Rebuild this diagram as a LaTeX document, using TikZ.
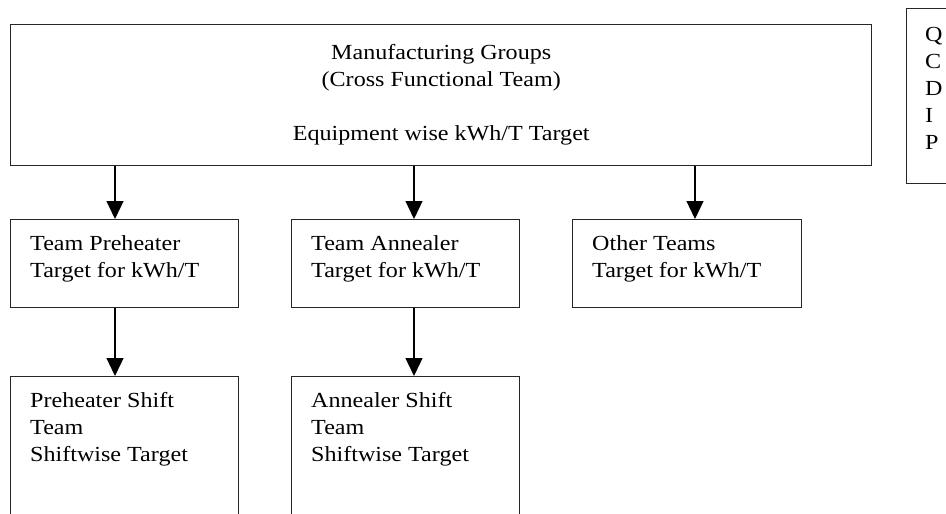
\documentclass[tikz,border=0pt]{standalone}
\usepackage{fontspec}
\setmainfont{Liberation Serif}[FakeStretch=1.12]
\usetikzlibrary{arrows.meta}
\begin{document}
\begin{tikzpicture}[x=1pt,y=-1pt,
  boxnode/.style={draw=black!85, line width=1.4pt, inner sep=0pt, anchor=north west},
  txt/.style={inner sep=0pt, anchor=north west, align=left, font=\fontsize{21.5}{27}\selectfont},
  arr/.style={line width=1.3pt, -{Triangle[width=17pt,length=18pt]}}]
\clip (0,0) rectangle (946,514);
\fill[white] (0,0) rectangle (946,514);
% boxes
\node[boxnode, minimum width=861pt, minimum height=141pt, align=center,
      font=\fontsize{21.5}{27}\selectfont] (main) at (10,24)
  {Manufacturing Groups\\(Cross Functional Team)\\[27pt]Equipment wise kWh/T Target};
\node[boxnode, minimum width=228pt, minimum height=88pt] (b1) at (10,219) {};
\node[boxnode, minimum width=228pt, minimum height=88pt] (b2) at (291,219) {};
\node[boxnode, minimum width=229pt, minimum height=88pt] (b3) at (571.5,219) {};
\node[boxnode, minimum width=228pt, minimum height=170pt] (c1) at (10,376) {};
\node[boxnode, minimum width=228pt, minimum height=170pt] (c2) at (291,376) {};
\node[boxnode, minimum width=70pt, minimum height=175.5pt] (q) at (905.5,7.5) {};
% texts
\node[txt] (t1) at (30,235.3) {Team Preheater\\Target for kWh/T};
\node[txt] (t2) at (311,235.3) {Team Annealer\\Target for kWh/T};
\node[txt] (t3) at (592,235.3) {Other Teams\\Target for kWh/T};
\node[txt] (u1) at (30,392) {Preheater Shift\\Team\\Shiftwise Target};
\node[txt] (u2) at (311,392) {Annealer Shift\\Team\\Shiftwise Target};
\node[txt] (qt) at (925,26.8) {Q\\C\\D\\I\\P};
% connectors
\coordinate (x1) at (115,0);
\coordinate (x2) at (414,0);
\coordinate (x3) at (695,0);
\draw[arr] (main.south -| x1) -- (b1.north -| x1);
\draw[arr] (main.south -| x2) -- (b2.north -| x2);
\draw[arr] (main.south -| x3) -- (b3.north -| x3);
\draw[arr] (b1.south -| x1) -- (c1.north -| x1);
\draw[arr] (b2.south -| x2) -- (c2.north -| x2);
\end{tikzpicture}
\end{document}
